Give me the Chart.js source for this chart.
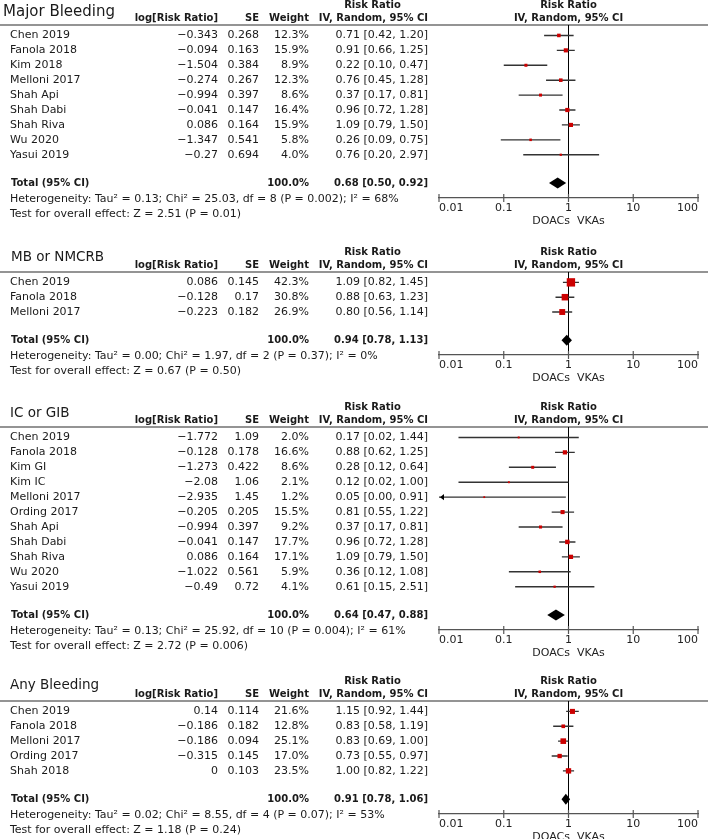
<!DOCTYPE html>
<html><head><meta charset="utf-8">
<script src="https://cdn.jsdelivr.net/npm/chart.js@4.4.0/dist/chart.umd.min.js"></script>
<style>
html,body{margin:0;padding:0;background:#fff;}
#wrap{position:relative;width:708px;height:839px;overflow:hidden;background:#fff;}
.panel{position:absolute;left:0;width:708px;}
canvas{display:block;}
</style></head><body><div id="wrap"></div>
<script>
// ---------- data ----------
const tickValues = [0.01, 0.1, 1, 10, 100];
const axisTitle = 'DOACs  VKAs';
const groupHeader = 'Risk Ratio';
const colHeaders = ['log[Risk Ratio]', 'SE', 'Weight', 'IV, Random, 95% CI'];
const totalLabel = 'Total (95% CI)';
const totalWeight = '100.0%';

// Major Bleeding
const mbStudies = ['Chen 2019','Fanola 2018','Kim 2018','Melloni 2017','Shah Api','Shah Dabi','Shah Riva','Wu 2020','Yasui 2019'];
const mbLogRR = [-0.343,-0.094,-1.504,-0.274,-0.994,-0.041,0.086,-1.347,-0.27];
const mbSE = [0.268,0.163,0.384,0.267,0.397,0.147,0.164,0.541,0.694];
const mbWeight = [12.3,15.9,8.9,12.3,8.6,16.4,15.9,5.8,4.0];
const mbRR = [0.71,0.91,0.22,0.76,0.37,0.96,1.09,0.26,0.76];
const mbLo = [0.42,0.66,0.10,0.45,0.17,0.72,0.79,0.09,0.20];
const mbHi = [1.20,1.25,0.47,1.28,0.81,1.28,1.50,0.75,2.97];
const mbTotal = [0.68,0.50,0.92];
const mbHet = 'Heterogeneity: Tau² = 0.13; Chi² = 25.03, df = 8 (P = 0.002); I² = 68%';
const mbTest = 'Test for overall effect: Z = 2.51 (P = 0.01)';

// MB or NMCRB
const nmStudies = ['Chen 2019','Fanola 2018','Melloni 2017'];
const nmLogRR = [0.086,-0.128,-0.223];
const nmSE = [0.145,0.17,0.182];
const nmWeight = [42.3,30.8,26.9];
const nmRR = [1.09,0.88,0.80];
const nmLo = [0.82,0.63,0.56];
const nmHi = [1.45,1.23,1.14];
const nmTotal = [0.94,0.78,1.13];
const nmHet = 'Heterogeneity: Tau² = 0.00; Chi² = 1.97, df = 2 (P = 0.37); I² = 0%';
const nmTest = 'Test for overall effect: Z = 0.67 (P = 0.50)';

// IC or GIB
const icStudies = ['Chen 2019','Fanola 2018','Kim GI','Kim IC','Melloni 2017','Ording 2017','Shah Api','Shah Dabi','Shah Riva','Wu 2020','Yasui 2019'];
const icLogRR = [-1.772,-0.128,-1.273,-2.08,-2.935,-0.205,-0.994,-0.041,0.086,-1.022,-0.49];
const icSE = [1.09,0.178,0.422,1.06,1.45,0.205,0.397,0.147,0.164,0.561,0.72];
const icWeight = [2.0,16.6,8.6,2.1,1.2,15.5,9.2,17.7,17.1,5.9,4.1];
const icRR = [0.17,0.88,0.28,0.12,0.05,0.81,0.37,0.96,1.09,0.36,0.61];
const icLo = [0.02,0.62,0.12,0.02,0.00,0.55,0.17,0.72,0.79,0.12,0.15];
const icHi = [1.44,1.25,0.64,1.00,0.91,1.22,0.81,1.28,1.50,1.08,2.51];
const icTotal = [0.64,0.47,0.88];
const icHet = 'Heterogeneity: Tau² = 0.13; Chi² = 25.92, df = 10 (P = 0.004); I² = 61%';
const icTest = 'Test for overall effect: Z = 2.72 (P = 0.006)';

// Any Bleeding
const abStudies = ['Chen 2019','Fanola 2018','Melloni 2017','Ording 2017','Shah 2018'];
const abLogRR = [0.14,-0.186,-0.186,-0.315,0];
const abSE = [0.114,0.182,0.094,0.145,0.103];
const abWeight = [21.6,12.8,25.1,17.0,23.5];
const abRR = [1.15,0.83,0.83,0.73,1.00];
const abLo = [0.92,0.58,0.69,0.55,0.82];
const abHi = [1.44,1.19,1.00,0.97,1.22];
const abTotal = [0.91,0.78,1.06];
const abHet = 'Heterogeneity: Tau² = 0.02; Chi² = 8.55, df = 4 (P = 0.07); I² = 53%';
const abTest = 'Test for overall effect: Z = 1.18 (P = 0.24)';

// ---------- layout ----------
const ROW = 14.9, PADTOP = 25, AXISH = 32;
const FONT = '"DejaVu Sans", sans-serif';
const colX = [218, 259, 309, 428];
const panels = [
  {title:'Major Bleeding', studies:mbStudies, logrr:mbLogRR, se:mbSE, w:mbWeight, rr:mbRR, lo:mbLo, hi:mbHi, total:mbTotal, het:mbHet, test:mbTest, lineY:25, titleX:3, titleSize:15, titleDy:13},
  {title:'MB or NMCRB', studies:nmStudies, logrr:nmLogRR, se:nmSE, w:nmWeight, rr:nmRR, lo:nmLo, hi:nmHi, total:nmTotal, het:nmHet, test:nmTest, lineY:272, titleX:11, titleSize:13.5, titleDy:15},
  {title:'IC or GIB', studies:icStudies, logrr:icLogRR, se:icSE, w:icWeight, rr:icRR, lo:icLo, hi:icHi, total:icTotal, het:icHet, test:icTest, lineY:427, titleX:10, titleSize:13.5, titleDy:14},
  {title:'Any Bleeding', studies:abStudies, logrr:abLogRR, se:abSE, w:abWeight, rr:abRR, lo:abLo, hi:abHi, total:abTotal, het:abHet, test:abTest, lineY:701, titleX:10, titleSize:13.5, titleDy:16}
];

const fmtNum = v => String(v).replace('-', '\u2212');
const fmtCI = (r, l, h) => r.toFixed(2) + ' [' + l.toFixed(2) + ', ' + h.toFixed(2) + ']';
const XMIN = tickValues[0], XMAX = tickValues[tickValues.length - 1];

const forestPlugin = {
  id: 'forest',
  beforeDatasetsDraw(chart) {
    const {ctx, chartArea: a, scales: {x}} = chart;
    ctx.save();
    ctx.strokeStyle = '#707070'; ctx.lineWidth = 1.4;
    ctx.beginPath(); ctx.moveTo(0, a.top); ctx.lineTo(chart.width, a.top); ctx.stroke();
    const x1 = x.getPixelForValue(1);
    ctx.strokeStyle = '#000'; ctx.lineWidth = 1;
    ctx.beginPath(); ctx.moveTo(x1, a.top); ctx.lineTo(x1, a.bottom); ctx.stroke();
    ctx.restore();
  },
  afterDatasetsDraw(chart) {
    const p = chart.options.plugins.forest.panel;
    const {ctx, scales: {x, y}} = chart;
    ctx.save();
    ctx.fillStyle = '#000';
    p.lo.forEach((l, i) => {
      if (l < XMIN) {
        const px = x.getPixelForValue(XMIN), py = y.getPixelForValue(i);
        ctx.beginPath(); ctx.moveTo(px + 1, py); ctx.lineTo(px + 5, py - 3.2); ctx.lineTo(px + 5, py + 3.2); ctx.closePath(); ctx.fill();
      }
    });
    const yT = y.getPixelForValue(p.studies.length + 0.9);
    const xl = x.getPixelForValue(p.total[1]), xm = x.getPixelForValue(p.total[0]), xr = x.getPixelForValue(p.total[2]);
    ctx.beginPath(); ctx.moveTo(xl, yT); ctx.lineTo(xm, yT - 5.5); ctx.lineTo(xr, yT); ctx.lineTo(xm, yT + 5.5); ctx.closePath(); ctx.fill();
    ctx.restore();
  },
  afterDraw(chart) {
    const p = chart.options.plugins.forest.panel;
    const {ctx, chartArea: a, scales: {x, y}} = chart;
    ctx.save();
    ctx.strokeStyle = '#555'; ctx.lineWidth = 1.2;
    tickValues.forEach(v => {
      const px = x.getPixelForValue(v);
      ctx.beginPath(); ctx.moveTo(px, a.bottom - 4); ctx.lineTo(px, a.bottom + 4); ctx.stroke();
    });
    const reg = '11px ' + FONT, bold = 'bold 10px ' + FONT;
    ctx.fillStyle = '#1a1a1a'; ctx.textBaseline = 'middle';
    ctx.font = p.titleSize + 'px ' + FONT; ctx.textAlign = 'left';
    ctx.fillText(p.title, p.titleX, a.top - p.titleDy);
    ctx.font = bold; ctx.textAlign = 'center';
    const xMid = (a.left + a.right) / 2;
    ctx.fillText(groupHeader, 372.5, a.top - 20);
    ctx.fillText(groupHeader, xMid, a.top - 20);
    ctx.fillText(colHeaders[3], xMid, a.top - 7);
    ctx.textAlign = 'right';
    colHeaders.forEach((h, i) => ctx.fillText(h, colX[i], a.top - 7));
    ctx.font = reg;
    p.studies.forEach((s, i) => {
      const py = y.getPixelForValue(i);
      ctx.textAlign = 'left'; ctx.fillText(s, 10, py);
      ctx.textAlign = 'right';
      ctx.fillText(fmtNum(p.logrr[i]), colX[0], py);
      ctx.fillText(fmtNum(p.se[i]), colX[1], py);
      ctx.fillText(p.w[i].toFixed(1) + '%', colX[2], py);
      ctx.fillText(fmtCI(p.rr[i], p.lo[i], p.hi[i]), colX[3], py);
    });
    const yT = y.getPixelForValue(p.studies.length + 0.9);
    ctx.font = bold;
    ctx.textAlign = 'left'; ctx.fillText(totalLabel, 11, yT);
    ctx.textAlign = 'right';
    ctx.fillText(totalWeight, colX[2], yT);
    ctx.fillText(fmtCI(p.total[0], p.total[1], p.total[2]), colX[3], yT);
    ctx.font = reg; ctx.textAlign = 'left';
    ctx.fillText(p.het, 10, yT + 16);
    ctx.fillText(p.test, 10, yT + 31);
    ctx.restore();
  }
};

const wrap = document.getElementById('wrap');
panels.forEach(p => {
  const n = p.studies.length;
  const plotH = (n + 2.6) * ROW;
  const H = Math.round(PADTOP + plotH + AXISH);
  const div = document.createElement('div');
  div.className = 'panel';
  div.style.top = (p.lineY - PADTOP) + 'px';
  div.style.height = H + 'px';
  const cv = document.createElement('canvas');
  cv.width = 708; cv.height = H;
  cv.style.width = '708px'; cv.style.height = H + 'px';
  div.appendChild(cv); wrap.appendChild(div);

  const ciData = [];
  p.lo.forEach((l, i) => {
    ciData.push({x: Math.max(l, XMIN), y: i});
    ciData.push({x: p.hi[i], y: i});
    ciData.push({x: null, y: null});
  });
  const ptData = p.rr.map((r, i) => ({x: r, y: i}));
  const weights = p.w;

  new Chart(cv, {
    type: 'scatter',
    data: {datasets: [
      {type: 'line', data: ciData, showLine: true, borderColor: '#333', borderWidth: 1.4, pointRadius: 0, spanGaps: false, fill: false, order: 2},
      {data: ptData, pointStyle: 'rect', backgroundColor: '#cc0000', borderWidth: 0,
       pointRadius: c => (1.6 + 0.16 * weights[c.dataIndex]) / Math.SQRT2, order: 1}
    ]},
    options: {
      responsive: false, animation: false, events: [],
      layout: {padding: {left: 439, right: 10, top: PADTOP, bottom: 0}},
      plugins: {legend: {display: false}, tooltip: {enabled: false}, forest: {panel: p}},
      scales: {
        x: {
          type: 'logarithmic', min: XMIN, max: XMAX, position: 'bottom',
          grid: {display: false, drawTicks: false},
          border: {display: true, color: '#555', width: 1.3},
          afterBuildTicks: s => { s.ticks = tickValues.map(v => ({value: v, major: true})); },
          afterFit: s => { s.height = AXISH; s.paddingLeft = 0; s.paddingRight = 0; },
          ticks: {autoSkip: false, maxRotation: 0, minRotation: 0, padding: 3.5, align: 'inner', color: '#222',
                  font: {family: 'DejaVu Sans', size: 11}, callback: v => String(v)},
          title: {display: true, text: axisTitle, color: '#222', font: {family: 'DejaVu Sans', size: 11}, padding: {top: 0, bottom: 2}}
        },
        y: {type: 'linear', display: false, reverse: true, min: -0.7, max: n + 1.9}
      }
    },
    plugins: [forestPlugin]
  });
});
</script>
</body></html>
